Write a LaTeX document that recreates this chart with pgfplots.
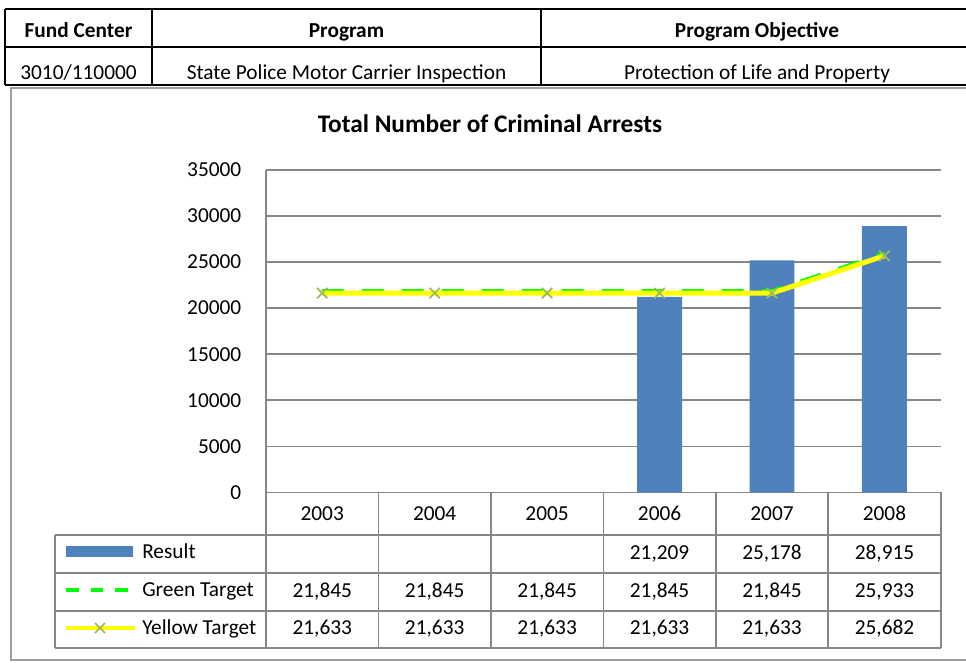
\documentclass[border=0pt]{standalone}
\usepackage{pgfplots}
\pgfplotsset{compat=1.18}
\usepackage{fontspec}
\setmainfont{Carlito}
\definecolor{barblue}{HTML}{4F81BD}
\definecolor{gridgray}{HTML}{868686}
\definecolor{tgreen}{HTML}{00FF00}
\definecolor{tyellow}{HTML}{FFFF00}
\definecolor{xmark}{HTML}{9BBB59}
\begin{document}
\fontsize{16}{19}\selectfont
\begin{tikzpicture}
% px grid of the reference: 1 px = 0.75pt, y counted from the bottom
\begin{scope}[x=0.75pt,y=0.75pt]
\path[use as bounding box] (0,0) rectangle (966,662);

% header table above the chart
\draw[line width=1.4pt] (5,653) -- (975,653);
\draw[line width=1.4pt] (5,615) -- (975,615);
\draw[line width=1.4pt] (5,577) -- (975,577);
\foreach \x in {5,152,541} \draw[line width=1.4pt] (\x,653) -- (\x,577);
\node[font=\bfseries, anchor=base] at (78.5,624) {Fund Center};
\node[font=\bfseries, anchor=base] at (346.5,624) {Program};
\node[font=\bfseries, anchor=base] at (757,624) {Program Objective};
\node[anchor=base] at (78.5,582) {3010/110000};
\node[anchor=base] at (346.5,582) {State Police Motor Carrier Inspection};
\node[anchor=base] at (757,582) {Protection of Life and Property};

% chart frame
\draw[gridgray!80, line width=1.4pt] (975,574) -- (11,574) -- (11,2) -- (975,2);

\node[font=\bfseries\fontsize{19}{22}\selectfont, anchor=base] at (490,530) {Total Number of Criminal Arrests};
\end{scope}

\begin{axis}[
    at={(199.5pt,127.3pt)}, anchor=south west,
    scale only axis, width=506pt, height=241.7pt,
    xmin=-0.5, xmax=5.5, ymin=0, ymax=35000,
    axis x line*=bottom, axis y line*=left,
    axis line style={gridgray, line width=1.1pt, -},
    ymajorgrids, grid style={gridgray, line width=1.1pt},
    major tick length=0pt,
    xtick={0,...,5}, xticklabels={2003,2004,2005,2006,2007,2008},
    xticklabel style={anchor=base, yshift=-21.5pt},
    ytick={0,5000,...,35000},
    yticklabel style={xshift=-13pt},
    /pgf/number format/assume math mode=true,
    scaled y ticks=false,
    yticklabel={\pgfmathprintnumber[fixed, 1000 sep={}]{\tick}},
    clip=false,
  ]
\addplot[ybar, bar width=0.4, fill=barblue, draw=none] coordinates {
  (3,21209) (4,25178) (5,28915)};
\addplot[tgreen, line width=3pt, dash pattern=on 16pt off 14pt, mark=none] coordinates {
  (0,21845) (1,21845) (2,21845) (3,21845) (4,21845) (5,25933)};
\addplot[tyellow, line width=3.75pt, mark=x, mark size=5.5pt,
         mark options={xmark, line width=1.3pt, solid}] coordinates {
  (0,21633) (1,21633) (2,21633) (3,21633) (4,21633) (5,25682)};
\end{axis}

\begin{scope}[x=0.75pt,y=0.75pt]
% data table under the axis
\begin{scope}[gridgray, line width=1.2pt]
  \foreach \y in {127,89,51,14} \draw (55,\y) -- (940.7,\y);
  \draw (55,127) -- (55,14);
  \foreach \k in {0,...,6} \draw ({266+112.45*\k},169.7) -- ({266+112.45*\k},14);
\end{scope}
\fill[barblue] (66,105) rectangle (133,116);
\node[anchor=base west, inner sep=0pt] at (142,104) {Result};
\draw[tgreen, line width=2.5pt, dash pattern=on 9.5pt off 9pt] (66,72) -- (130,72);
\node[anchor=base west, inner sep=0pt] at (142,66) {Green Target};
\draw[tyellow, line width=2.5pt] (66,34) -- (135,34);
\draw[xmark, line width=1.1pt] (95,29) -- (105,39) (95,39) -- (105,29);
\node[anchor=base west, inner sep=0pt] at (142,28) {Yellow Target};
\foreach \v [count=\k from 3] in {{21,209},{25,178},{28,915}}
  \node[anchor=base] at ({266+112.45*(\k+0.5)},103) {\v};
\foreach \v [count=\k from 0] in {{21,845},{21,845},{21,845},{21,845},{21,845},{25,933}}
  \node[anchor=base] at ({266+112.45*(\k+0.5)},65) {\v};
\foreach \v [count=\k from 0] in {{21,633},{21,633},{21,633},{21,633},{21,633},{25,682}}
  \node[anchor=base] at ({266+112.45*(\k+0.5)},28) {\v};
\end{scope}
\end{tikzpicture}
\end{document}
